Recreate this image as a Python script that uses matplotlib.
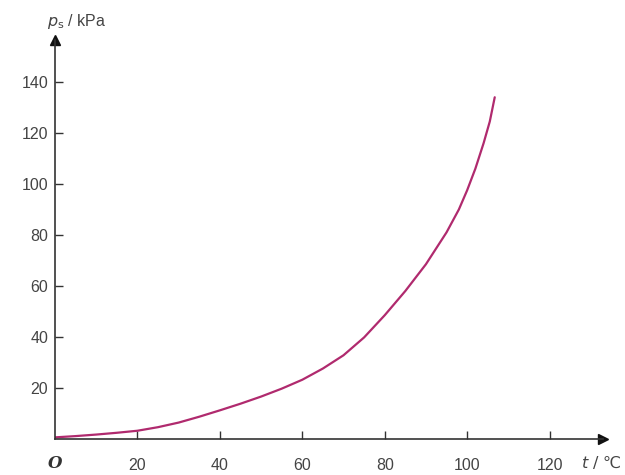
import matplotlib
matplotlib.use("Agg")
import matplotlib.pyplot as plt

# temperature (°C) and saturated vapour pressure (kPa)
temps = [0, 5, 10, 15, 20, 25, 30, 35, 40, 45, 50, 55, 60, 65, 70, 75,
         80, 85, 90, 95, 98, 100, 102, 104, 105.5, 106.7]
pressures = [0.6, 1.1, 1.7, 2.4, 3.2, 4.6, 6.4, 8.7, 11.2, 13.8, 16.6, 19.7,
             23.2, 27.6, 32.8, 39.8, 48.5, 58.0, 68.5, 81.0, 90.0, 97.5,
             106.0, 116.0, 124.5, 134.0]

x_ticks = [20, 40, 60, 80, 100, 120]
y_ticks = [20, 40, 60, 80, 100, 120, 140]

plt.rcParams["font.family"] = ["Liberation Sans", "DejaVu Sans"]

fig = plt.figure(figsize=(6.25, 4.75), dpi=100)
ax = fig.add_axes([0.088, 0.076, 0.877, 0.84])

ax.plot(temps, pressures, color="#b02a6e", linewidth=1.6,
        solid_capstyle="round", solid_joinstyle="round")

ax.set_xlim(0, 133)
ax.set_ylim(0, 156.5)

for side in ("top", "right"):
    ax.spines[side].set_visible(False)
for side in ("left", "bottom"):
    ax.spines[side].set_color("#333333")
    ax.spines[side].set_linewidth(1.2)

# arrow heads on the axes
ax.plot(1, 0, ">", color="#111111", markersize=7,
        transform=ax.get_yaxis_transform(), clip_on=False)
ax.plot(0, 1, "^", color="#111111", markersize=7,
        transform=ax.get_xaxis_transform(), clip_on=False)

ax.set_xticks(x_ticks)
ax.set_yticks(y_ticks)
ax.tick_params(direction="in", length=6, width=1, color="#333333",
               labelsize=11.5, labelcolor="#444444")
ax.tick_params(axis="x", pad=14)
ax.tick_params(axis="y", pad=5)

ax.text(0.0, -0.04, "O", transform=ax.transAxes, fontsize=12,
        style="italic", fontweight="bold", color="#333333",
        ha="center", va="top", family="DejaVu Serif")

fig.text(0.075, 0.955, r"$p_{\mathrm{s}}$ / kPa", fontsize=11.5,
         color="#444444", ha="left", va="center")
fig.text(0.93, 0.027, "$t$ / ℃", fontsize=11.5, color="#444444",
         ha="left", va="center", family=["DejaVu Sans", "Noto Sans CJK SC"])

fig.savefig("out.png", dpi=100)
